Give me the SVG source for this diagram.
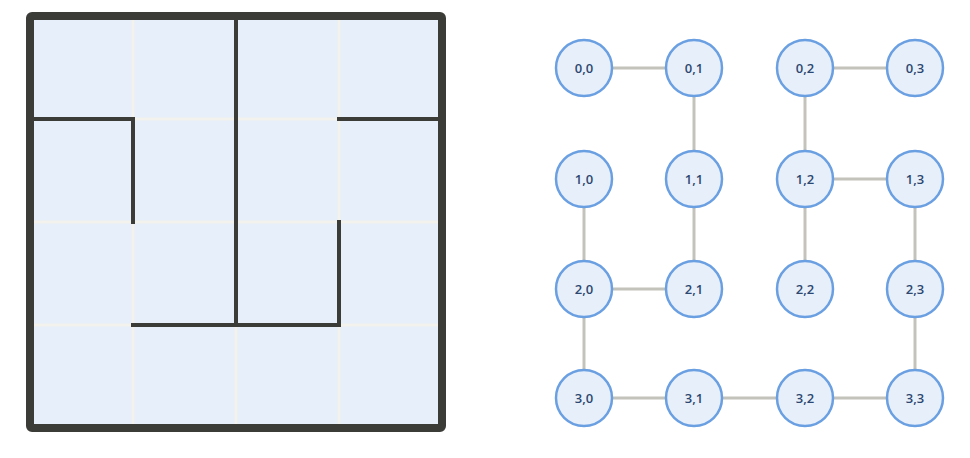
<svg xmlns="http://www.w3.org/2000/svg" width="970" height="458" viewBox="0 0 970 458">
<style>
.cell{fill:#e7effa}
.grid{stroke:#f4f2ec;stroke-width:3;fill:none}
.wall{stroke:#3b3b38;stroke-width:4;fill:none;stroke-linecap:square}
.edge{stroke:#c3c2bb;stroke-width:3}
.node circle{fill:#e7effa;stroke:#6a9fe2;stroke-width:2.5}
.node text{font-family:"Open Sans","Liberation Sans",Arial,sans-serif;font-size:13px;font-weight:600;fill:#2c4770;text-anchor:middle;dominant-baseline:central}
</style>
<rect width="970" height="458" fill="#ffffff"/>
<g id="maze">
<rect class="cell" x="30" y="16" width="412" height="412"/>
<path class="grid" d="M133 16V428M236 16V428M339 16V428M30 119H442M30 222H442M30 325H442"/>
<path class="wall" d="M236 16V325M30 119H133V222M339 119H442M133 325H339V222"/>
<rect x="30" y="16" width="412" height="412" rx="2" fill="none" stroke="#3b3b38" stroke-width="8"/>
</g>
<g id="connectors">
<line class="edge" x1="584" y1="68" x2="694" y2="68"/>
<line class="edge" x1="805" y1="68" x2="915" y2="68"/>
<line class="edge" x1="694" y1="68" x2="694" y2="179"/>
<line class="edge" x1="805" y1="68" x2="805" y2="179"/>
<line class="edge" x1="805" y1="179" x2="915" y2="179"/>
<line class="edge" x1="584" y1="179" x2="584" y2="289"/>
<line class="edge" x1="694" y1="179" x2="694" y2="289"/>
<line class="edge" x1="805" y1="179" x2="805" y2="289"/>
<line class="edge" x1="915" y1="179" x2="915" y2="289"/>
<line class="edge" x1="584" y1="289" x2="694" y2="289"/>
<line class="edge" x1="584" y1="289" x2="584" y2="398"/>
<line class="edge" x1="915" y1="289" x2="915" y2="398"/>
<line class="edge" x1="584" y1="398" x2="694" y2="398"/>
<line class="edge" x1="694" y1="398" x2="805" y2="398"/>
<line class="edge" x1="805" y1="398" x2="915" y2="398"/>
</g>
<g id="n00" class="node"><circle cx="584" cy="68" r="28"/><text x="584" y="68">0,0</text></g>
<g id="n01" class="node"><circle cx="694" cy="68" r="28"/><text x="694" y="68">0,1</text></g>
<g id="n02" class="node"><circle cx="805" cy="68" r="28"/><text x="805" y="68">0,2</text></g>
<g id="n03" class="node"><circle cx="915" cy="68" r="28"/><text x="915" y="68">0,3</text></g>
<g id="n10" class="node"><circle cx="584" cy="179" r="28"/><text x="584" y="179">1,0</text></g>
<g id="n11" class="node"><circle cx="694" cy="179" r="28"/><text x="694" y="179">1,1</text></g>
<g id="n12" class="node"><circle cx="805" cy="179" r="28"/><text x="805" y="179">1,2</text></g>
<g id="n13" class="node"><circle cx="915" cy="179" r="28"/><text x="915" y="179">1,3</text></g>
<g id="n20" class="node"><circle cx="584" cy="289" r="28"/><text x="584" y="289">2,0</text></g>
<g id="n21" class="node"><circle cx="694" cy="289" r="28"/><text x="694" y="289">2,1</text></g>
<g id="n22" class="node"><circle cx="805" cy="289" r="28"/><text x="805" y="289">2,2</text></g>
<g id="n23" class="node"><circle cx="915" cy="289" r="28"/><text x="915" y="289">2,3</text></g>
<g id="n30" class="node"><circle cx="584" cy="398" r="28"/><text x="584" y="398">3,0</text></g>
<g id="n31" class="node"><circle cx="694" cy="398" r="28"/><text x="694" y="398">3,1</text></g>
<g id="n32" class="node"><circle cx="805" cy="398" r="28"/><text x="805" y="398">3,2</text></g>
<g id="n33" class="node"><circle cx="915" cy="398" r="28"/><text x="915" y="398">3,3</text></g>
</svg>
